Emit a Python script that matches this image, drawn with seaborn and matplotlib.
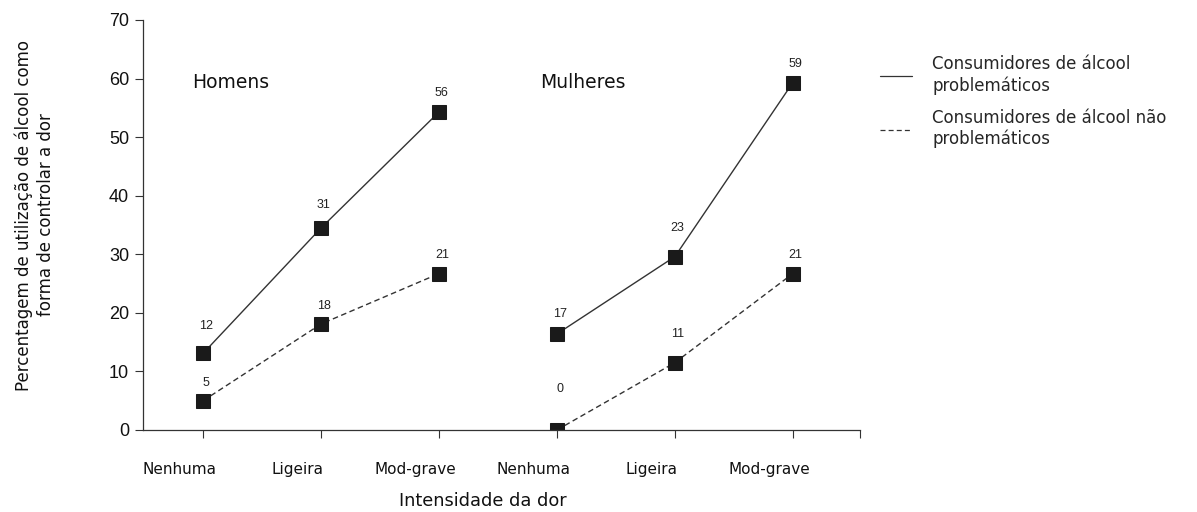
import numpy as np
import pandas as pd
import matplotlib
matplotlib.use("Agg")
import matplotlib.pyplot as plt
import seaborn as sns
from matplotlib.lines import Line2D

# ---------- datos ----------
niveis = ["Nenhuma", "Ligeira", "Mod-grave"]
grupos = ["Homens", "Mulheres"]
series = ["Consumidores de álcool\nproblemáticos",
          "Consumidores de álcool não\nproblemáticos"]

# valores tal como aparecen dibujados (posición vertical de los marcadores)
homens_prob = [13.1, 34.5, 54.3]
homens_nao = [5.0, 18.1, 26.7]
mulheres_prob = [16.4, 29.6, 59.3]
mulheres_nao = [0.0, 11.5, 26.7]

# etiquetas escritas encima de cada punto
rot_homens_prob = ["12", "31", "56"]
rot_homens_nao = ["5", "18", "21"]
rot_mulheres_prob = ["17", "23", "59"]
rot_mulheres_nao = ["0", "11", "21"]

# desplazamiento vertical (px) de cada etiqueta (layout)
off_prob = [[27, 23, 19], [20, 29, 19]]
off_nao = [[18, 18, 19], [41, 29, 19]]

rows = []
for gi, (g, vp, vn, rp, rn) in enumerate([
        ("Homens", homens_prob, homens_nao, rot_homens_prob, rot_homens_nao),
        ("Mulheres", mulheres_prob, mulheres_nao, rot_mulheres_prob, rot_mulheres_nao)]):
    for i, n in enumerate(niveis):
        rows.append(dict(grupo=g, nivel=n, pos=gi * 3 + i, serie=series[0],
                         valor=vp[i], rotulo=rp[i], off=off_prob[gi][i]))
        rows.append(dict(grupo=g, nivel=n, pos=gi * 3 + i, serie=series[1],
                         valor=vn[i], rotulo=rn[i], off=off_nao[gi][i]))
df = pd.DataFrame(rows)

sns.set_theme(style="white")
plt.rcParams["font.family"] = ["DejaVu Sans"]

fig = plt.figure(figsize=(11.97, 5.12), dpi=100)
ax = fig.add_axes([0.1195, 0.1602, 0.599, 0.8008])

estilos = {series[0]: "-", series[1]: (0, (4, 2.5))}
cor = "#333333"
for (g, s), d in df.groupby(["grupo", "serie"], sort=False):
    sns.lineplot(data=d, x="pos", y="valor", ax=ax, color=cor, lw=1.0,
                 marker="s", markersize=9.5, markerfacecolor="#1a1a1a",
                 markeredgecolor="#1a1a1a", estimator=None, legend=False)
    ax.lines[-1].set_linestyle(estilos[s])

for _, r in df.iterrows():
    ax.annotate(r["rotulo"], (r["pos"], r["valor"]), xytext=(2, r["off"] * 0.72),
                textcoords="offset points", ha="center", va="center",
                fontsize=9, family="Liberation Sans", color="#222222")

ax.text(-0.09, 59.4, "Homens", fontsize=13.5, ha="left", va="center", color="#111")
ax.text(2.86, 59.4, "Mulheres", fontsize=13.5, ha="left", va="center", color="#111")

ax.set_xlim(-0.51, 5.57)
ax.set_ylim(0, 70)
ax.set_yticks(range(0, 71, 10))
# marcas mayores sin texto; los nombres van en marcas menores algo desplazadas a la izquierda
posicoes = np.arange(6)
ax.set_xticks(list(posicoes) + [5.57])
ax.set_xticklabels([""] * 7)
ax.set_xticks(posicoes - 0.2, minor=True)
ax.set_xticklabels(niveis * 2, minor=True, fontsize=11, color="#111")
for lab in ax.get_yticklabels():
    lab.set_family("Liberation Sans")
    lab.set_fontsize(13)
    lab.set_color("#111")
ax.tick_params(axis="x", which="major", bottom=True, direction="out", length=6,
               width=0.8, colors="#333")
ax.tick_params(axis="x", which="minor", bottom=True, length=0, pad=23)
ax.tick_params(axis="y", left=True, direction="out", length=6, width=0.8, pad=4, colors="#333")
for lab in ax.get_yticklabels() + ax.get_xticklabels(minor=True):
    lab.set_color("#111")
sns.despine(ax=ax)
for sp in ["left", "bottom"]:
    ax.spines[sp].set_color("#333")
    ax.spines[sp].set_linewidth(0.9)
ax.set_xlabel("")
ax.set_ylabel("")

fig.text(0.029, 0.58, "Percentagem de utilização de álcool como\nforma de controlar a dor",
         rotation=90, ha="center", va="center", fontsize=12, color="#111",
         linespacing=1.25)
fig.text(0.4035, 0.022, "Intensidade da dor", ha="center", va="center",
         fontsize=12.8, color="#111")

handles = [Line2D([0], [0], color=cor, lw=0.9, linestyle=estilos[s]) for s in series]
fig.legend(handles, series, loc="upper left", bbox_to_anchor=(0.730, 0.905),
           frameon=False, fontsize=12, handlelength=1.9, handletextpad=1.2,
           labelspacing=0.85, borderaxespad=0)

fig.savefig("out.png", dpi=100)
